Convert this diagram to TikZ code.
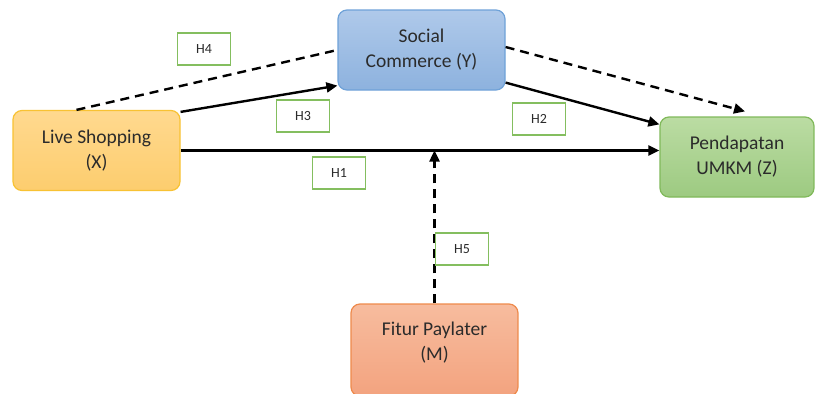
\documentclass[tikz,border=0pt]{standalone}
\usepackage{fontspec}
\setmainfont{Carlito}
\usepackage{tikz}
\usepackage{xcolor}
\usetikzlibrary{arrows.meta}
\definecolor{xtop}{HTML}{FFD98F}
\definecolor{xbot}{HTML}{FDCD6E}
\definecolor{xline}{HTML}{F8C233}
\definecolor{ytop}{HTML}{AFC9EA}
\definecolor{ybot}{HTML}{8DB2DE}
\definecolor{yline}{HTML}{6FA2D8}
\definecolor{ztop}{HTML}{BBDCA3}
\definecolor{zbot}{HTML}{9DCA81}
\definecolor{zline}{HTML}{80B95A}
\definecolor{mtop}{HTML}{F7BC9E}
\definecolor{mbot}{HTML}{F3A37F}
\definecolor{mline}{HTML}{EE8A4C}
\definecolor{hline}{HTML}{84BE5F}
\definecolor{txt}{HTML}{2B2B2B}

\begin{document}
\begin{tikzpicture}[x=1pt,y=-1pt,
        var/.style={rounded corners=9pt,minimum width=167pt,minimum height=80pt,align=center,
            font=\fontsize{19.5}{25}\selectfont,line width=1.2pt,text=txt},
        hyp/.style={draw=hline,line width=1.4pt,fill=white,minimum width=53pt,minimum height=32pt,
            font=\fontsize{14}{16}\selectfont,text=txt},
        link/.style={line width=2.4pt,-{Triangle[length=11pt,width=10pt]}},
        dlink/.style={line width=2.4pt,dash pattern=on 9pt off 6pt}]
        \useasboundingbox (0,0) rectangle (815,394);
        \node[var,draw=xline,top color=xtop,bottom color=xbot] (live) at (96.5,150.5) {Live Shopping\\(X)};
        \node[var,draw=yline,top color=ytop,bottom color=ybot] (soc) at (421.5,50) {Social\\Commerce (Y)};
        \node[var,draw=zline,top color=ztop,bottom color=zbot,minimum width=154pt] (inc) at (737,157) {Pendapatan\\UMKM (Z)};
        \node[var,draw=mline,top color=mtop,bottom color=mbot,minimum height=92pt,text depth=17pt] (pay) at (434.5,350) {Fitur Paylater\\(M)};
        \draw[link] (live.east) -- (live.east -| inc.west);
        \draw[link] ([yshift=-2pt]live.north east) -- ([yshift=5pt]soc.south west);
        \draw[link] ([yshift=8pt]soc.south east) -- ([yshift=-8pt]inc.north west);
        \draw[dlink] ([xshift=-20pt]live.north) -- (soc.west);
        \draw[dlink,-{Triangle[length=11pt,width=10pt]}] ([yshift=3pt]soc.east) -- ([xshift=8pt,yshift=5pt]inc.north);
        \draw[dlink,-{Triangle[length=11pt,width=10pt]}] (pay.north) -- (pay.north |- live.east);
        \node[hyp] (h4) at (204,49) {H4};
        \node[hyp] (h3) at (303,116) {H3};
        \node[hyp] (h2) at (539,119) {H2};
        \node[hyp] (h1) at (339,173) {H1};
        \node[hyp] (h5) at (462,249) {H5};
    \end{tikzpicture}
\end{document}
